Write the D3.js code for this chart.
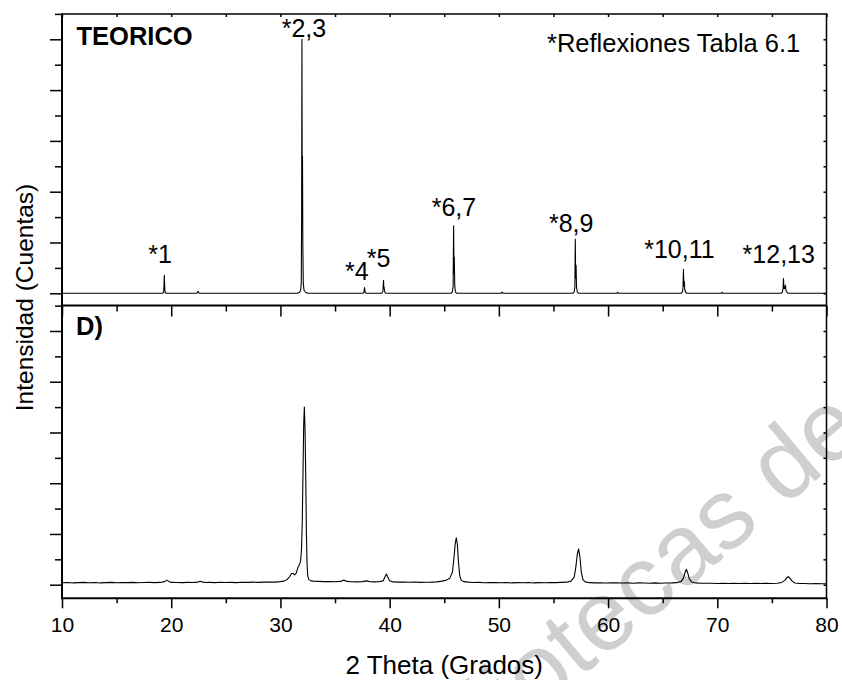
<!DOCTYPE html>
<html><head><meta charset="utf-8">
<script src="https://cdn.jsdelivr.net/npm/d3@7"></script>
<style>
body{margin:0;background:#fff}
svg{display:block}
text{font-family:"Liberation Sans",Arial,Helvetica,sans-serif;fill:#000}
</style>
</head><body>
<svg id="chart" width="842" height="680"></svg>
<script>
// ---------------- DATA ----------------
const xMajorTicks = [10, 20, 30, 40, 50, 60, 70, 80];
const xMinorTicks = [15, 25, 35, 45, 55, 65, 75];
const yMajorTicks = [0, 20, 40, 60, 80, 100];
const yMinorTicks = [10, 30, 50, 70, 90, 110];
const xTitle = "2 Theta (Grados)";
const yTitle = "Intensidad (Cuentas)";
const topPanelName = "TEORICO";
const bottomPanelName = "D)";
const noteText = "*Reflexiones Tabla 6.1";

// theoretical pattern: [2theta, intensity]
const teoricoPattern = [
  [10,0],[19.2,0],[19.3,0.4],[19.34,3],[19.37,7.1],[19.40,3],[19.44,0.4],[19.55,0],
  [22.35,0],[22.46,0.8],[22.57,0],
  [31.55,0],[31.75,0.4],[31.85,1.2],[31.91,4],[31.94,30],[31.97,100],[31.995,40],[32.02,54],[32.05,20],[32.09,4],[32.16,1.2],[32.3,0.4],[32.5,0],
  [37.55,0],[37.65,0.5],[37.7,2.3],[37.75,0.5],[37.85,0],
  [39.28,0],[39.38,0.7],[39.44,5.1],[39.47,2],[39.5,2.4],[39.54,0.6],[39.64,0],
  [45.62,0],[45.74,0.6],[45.81,2.5],[45.86,26.6],[45.89,8],[45.92,14.3],[45.96,3],[46.02,0.6],[46.14,0],
  [50.2,0],[50.29,0.5],[50.38,0],
  [56.78,0],[56.9,0.6],[56.96,2.5],[57.0,21.3],[57.03,6],[57.07,11],[57.11,2.5],[57.18,0.6],[57.3,0],
  [60.8,0],[60.88,0.4],[60.96,0],
  [66.7,0],[66.8,0.5],[66.86,2],[66.9,9.4],[66.94,3],[66.98,4.7],[67.02,1.5],[67.1,0.4],[67.22,0],
  [70.36,0],[70.44,0.4],[70.52,0],
  [75.84,0],[75.95,0.4],[76.02,1.8],[76.06,5.8],[76.1,2],[76.16,1.8],[76.24,3.2],[76.3,1],[76.4,0.3],[76.52,0],
  [80,0]
];

// measured pattern D): [2theta, intensity]
const muestraPattern = [
  [10.0,0.75],[10.5,0.85],[11.0,0.7],[11.5,0.8],[12.0,0.9],[12.5,0.75],[13.0,0.85],[13.5,0.7],[14.0,0.8],[14.5,0.9],
  [15.0,0.75],[15.5,0.85],[16.0,0.8],[16.5,0.9],[17.0,0.75],[17.5,0.85],[18.0,0.9],[18.5,0.8],[19.0,0.9],[19.4,1.2],
  [19.6,1.8],[19.8,1.3],[20.0,0.9],[20.5,0.85],[21.0,0.8],[21.5,0.9],[22.0,0.85],[22.4,1.0],[22.65,1.4],[22.9,1.0],
  [23.2,0.85],[23.5,0.9],[24.0,0.8],[24.5,0.95],[25.0,0.85],[25.5,0.9],[26.0,0.8],[26.5,0.95],[27.0,0.9],[27.5,1.0],
  [28.0,0.9],[28.5,1.0],[29.0,1.05],[29.5,1.0],[30.0,1.2],[30.3,1.4],[30.6,2.0],[30.85,3.2],[31.0,4.3],[31.15,4.5],
  [31.3,3.9],[31.45,4.6],[31.6,6.8],[31.75,8.0],[31.85,9.5],[31.93,14],[32.0,25],[32.07,45],[32.13,63],[32.19,70],
  [32.25,62],[32.32,42],[32.38,20],[32.44,8],[32.5,3.5],[32.6,2.0],[32.8,1.5],[33.0,1.4],[33.5,1.3],[34.0,1.2],
  [34.5,1.25],[35.0,1.15],[35.5,1.3],[35.8,1.8],[36.1,1.3],[36.5,1.15],[37.0,1.1],[37.5,1.2],[37.9,1.5],[38.2,1.15],
  [38.6,1.1],[39.0,1.15],[39.4,1.5],[39.6,3.3],[39.7,4.2],[39.8,3.2],[40.0,1.6],[40.3,1.1],[40.8,1.0],[41.3,1.05],
  [41.8,0.95],[42.3,1.05],[42.8,0.9],[43.3,0.95],[43.8,1.0],[44.3,1.1],[44.8,1.4],[45.2,1.8],[45.5,2.5],[45.75,5],
  [45.9,11],[46.0,16],[46.1,18.5],[46.2,16],[46.3,9],[46.42,3.5],[46.55,1.8],[46.8,1.2],[47.2,1.0],[47.7,0.85],
  [48.2,0.9],[48.7,0.75],[49.2,0.85],[49.7,0.8],[50.2,0.75],[50.7,0.85],[51.2,0.7],[51.7,0.8],[52.2,0.75],[52.7,0.85],
  [53.2,0.7],[53.7,0.8],[54.2,0.75],[54.7,0.85],[55.2,0.8],[55.7,0.9],[56.2,1.0],[56.6,1.4],[56.9,3.0],[57.05,7],
  [57.18,12],[57.3,14.1],[57.42,11],[57.55,5],[57.7,2.0],[57.9,1.1],[58.3,0.8],[58.8,0.7],[59.3,0.75],[59.8,0.65],
  [60.3,0.7],[60.8,0.75],[61.3,0.65],[61.8,0.7],[62.3,0.6],[62.8,0.7],[63.3,0.65],[63.8,0.6],[64.3,0.7],[64.8,0.6],
  [65.3,0.65],[65.8,0.7],[66.3,0.8],[66.7,1.3],[66.9,2.6],[67.05,4.8],[67.17,6.1],[67.3,4.5],[67.45,2.2],[67.65,1.1],
  [68.0,0.7],[68.5,0.6],[69.0,0.55],[69.5,0.6],[70.0,0.5],[70.5,0.55],[71.0,0.5],[71.5,0.6],[72.0,0.5],[72.5,0.55],
  [73.0,0.45],[73.5,0.55],[74.0,0.5],[74.5,0.55],[75.0,0.5],[75.5,0.6],[75.9,0.9],[76.2,1.8],[76.4,2.9],[76.5,3.2],
  [76.65,2.6],[76.85,1.4],[77.1,0.7],[77.5,0.5],[78.0,0.45],[78.5,0.4],[79.0,0.45],[79.5,0.35],[80.0,0.4]
];

// peak labels: text, 2theta of label centre, intensity level of label baseline
const peakLabelText = ["*1", "*2,3", "*4", "*5", "*6,7", "*8,9", "*10,11", "*12,13"];
const peakLabelX    = [18.98, 32.15, 37.0, 38.98, 45.89, 56.62, 66.53, 75.63];
const peakLabelY    = [11.8, 100.9, 5.2, 10.5, 30.4, 24.3, 14.0, 11.8];

// ---------------- LAYOUT ----------------
const L = 62, R = 826.5, T = 14, M = 305.5, B = 598.3;
const svg = d3.select("#chart");

const x = d3.scaleLinear().domain([10, 80]).range([L, R]);
const yTop = d3.scaleLinear().domain([0, 100]).range([293.3, 39.3]);
const yBot = d3.scaleLinear().domain([0, 100]).range([584.7, 331]);

// watermark
svg.append("text")
  .attr("transform", "translate(392,836) rotate(-40)")
  .attr("font-size", 100)
  .style("fill", "#cfcfcf")
  .text("Bibliotecas de");

// ---------------- AXES / TICKS ----------------
function ticks(gen, transform, values, size) {
  const g = svg.append("g").attr("transform", transform)
    .call(gen.tickValues(values).tickSize(size).tickSizeOuter(0).tickFormat(""));
  g.select(".domain").remove();
  g.selectAll(".tick line").attr("stroke", "#000").attr("stroke-width", 1.5);
  return g;
}
// left axis (outward)
ticks(d3.axisLeft(yTop), `translate(${L},0)`, yMajorTicks, 12);
ticks(d3.axisLeft(yTop), `translate(${L},0)`, yMinorTicks, 7);
ticks(d3.axisLeft(yBot), `translate(${L},0)`, yMajorTicks, 12);
ticks(d3.axisLeft(yBot), `translate(${L},0)`, yMinorTicks, 7);
// right axis (inward, small)
ticks(d3.axisLeft(yTop), `translate(${R},0)`, yMajorTicks.concat(yMinorTicks.slice(0,5)), 3);
ticks(d3.axisLeft(yBot), `translate(${R},0)`, yMajorTicks.concat(yMinorTicks.slice(0,5)), 3);
// top edge of top panel (inward, small)
ticks(d3.axisBottom(x), `translate(0,${T})`, xMajorTicks.concat(xMinorTicks), 3);
// top edge of bottom panel (inward)
ticks(d3.axisBottom(x), `translate(0,${M})`, xMajorTicks, 11);
ticks(d3.axisBottom(x), `translate(0,${M})`, xMinorTicks, 6);
// bottom axis with labels
ticks(d3.axisBottom(x), `translate(0,${B})`, xMinorTicks, 5);
const bx = svg.append("g").attr("transform", `translate(0,${B})`)
  .call(d3.axisBottom(x).tickValues(xMajorTicks).tickSize(10).tickPadding(9).tickSizeOuter(0).tickFormat(d3.format("d")));
bx.select(".domain").remove();
bx.selectAll(".tick line").attr("stroke", "#000").attr("stroke-width", 1.5);
bx.selectAll(".tick text").attr("font-size", 21).attr("font-family", null);

// frame lines
const frame = svg.append("g").attr("stroke", "#000").attr("fill", "none");
frame.append("line").attr("x1", L).attr("x2", L).attr("y1", T - 0.75).attr("y2", B + 1).attr("stroke-width", 2);
frame.append("line").attr("x1", L).attr("x2", R).attr("y1", T).attr("y2", T).attr("stroke-width", 1.5);
frame.append("line").attr("x1", R).attr("x2", R).attr("y1", T - 0.75).attr("y2", B + 1).attr("stroke-width", 1.5);
frame.append("line").attr("x1", L).attr("x2", R).attr("y1", M).attr("y2", M).attr("stroke-width", 2.2);
frame.append("line").attr("x1", L - 1).attr("x2", R + 0.75).attr("y1", B).attr("y2", B).attr("stroke-width", 2);

// ---------------- DATA LINES ----------------
const lineTop = d3.line().x(d => x(d[0])).y(d => yTop(d[1]));
const lineBot = d3.line().x(d => x(d[0])).y(d => yBot(d[1]));
svg.append("path").datum(teoricoPattern).attr("d", lineTop)
  .attr("fill", "none").attr("stroke", "#000").attr("stroke-width", 1.1).attr("stroke-linejoin", "round");
svg.append("path").datum(muestraPattern).attr("d", lineBot)
  .attr("fill", "none").attr("stroke", "#000").attr("stroke-width", 1.1).attr("stroke-linejoin", "round");

// ---------------- TEXT ----------------
svg.selectAll("text.peak").data(peakLabelText).enter().append("text")
  .attr("class", "peak")
  .attr("x", (d, i) => x(peakLabelX[i]))
  .attr("y", (d, i) => yTop(peakLabelY[i]))
  .attr("text-anchor", "middle")
  .attr("font-size", 25)
  .text(d => d);

svg.append("text").attr("x", 76.5).attr("y", 45).attr("font-size", 25.5).attr("font-weight", "bold").text(topPanelName);
svg.append("text").attr("x", 76).attr("y", 335).attr("font-size", 25.5).attr("font-weight", "bold").text(bottomPanelName);
svg.append("text").attr("x", 547).attr("y", 51.5).attr("font-size", 25.5).text(noteText);

svg.append("text").attr("x", (L + R) / 2).attr("y", 674).attr("text-anchor", "middle").attr("font-size", 26).text(xTitle);
svg.append("text").attr("transform", "translate(32.5,297.5) rotate(-90)").attr("text-anchor", "middle").attr("font-size", 24.5).text(yTitle);
</script>
</body></html>
